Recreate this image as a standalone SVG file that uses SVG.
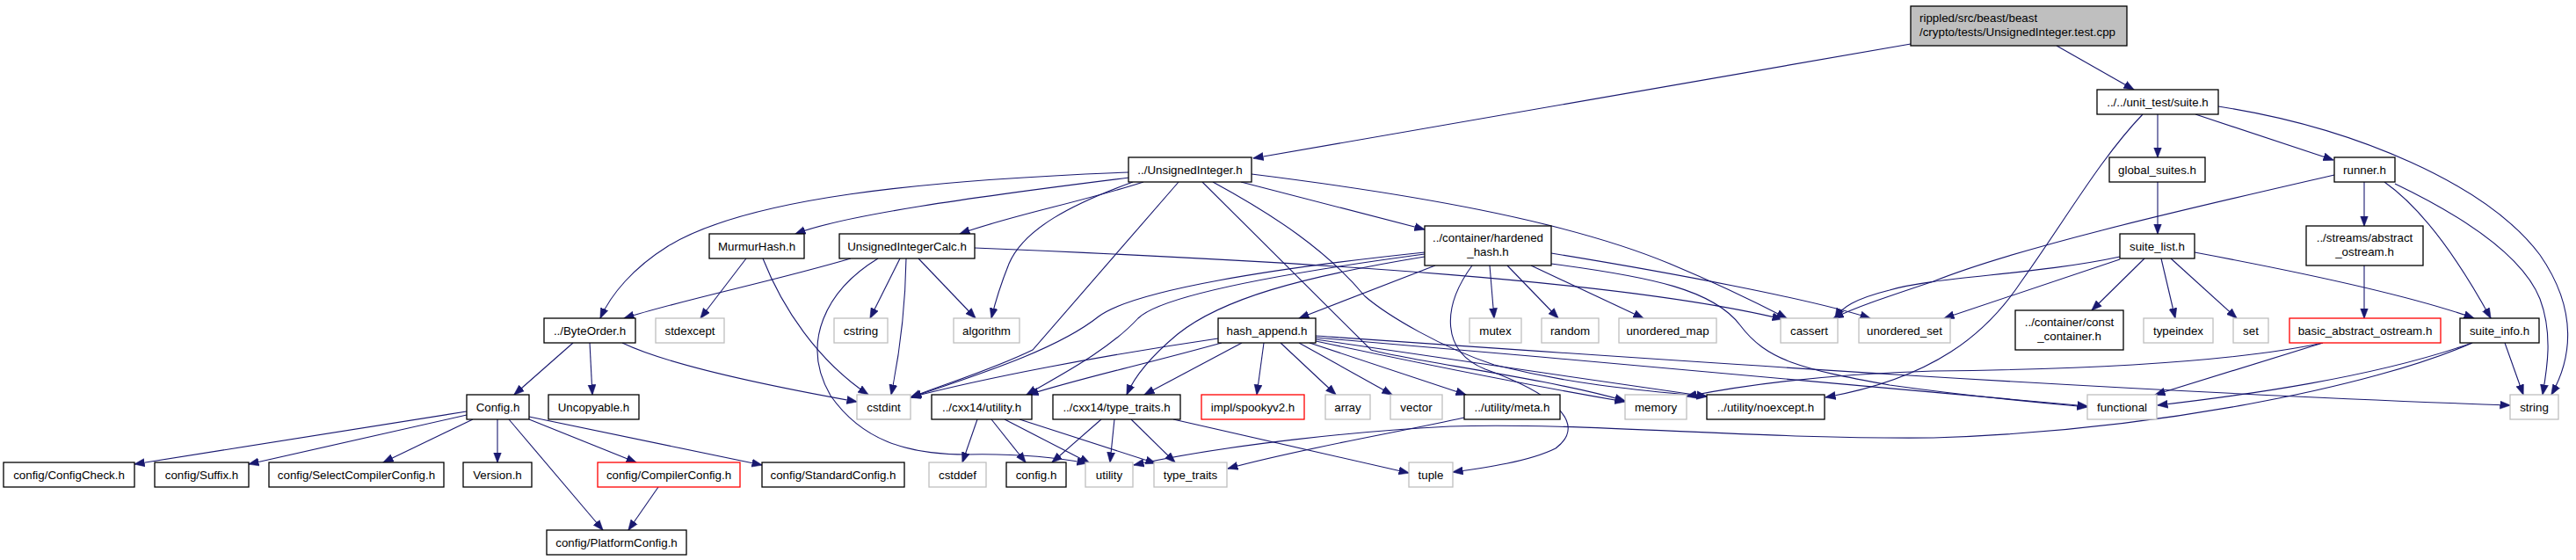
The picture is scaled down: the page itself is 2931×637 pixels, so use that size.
<svg xmlns="http://www.w3.org/2000/svg" width="2931" height="637" viewBox="0 0 2931 637">
<style>
.node rect{fill:#fff;stroke:#000;stroke-width:1.3}
.node.ext rect{stroke:#bfbfbf}
.node.trunc rect{stroke:#ff0000}
.node.main rect{fill:#bfbfbf}
text{font-family:"Liberation Sans",Arial,Helvetica,sans-serif;font-size:13.33px;fill:#000;text-anchor:middle}
.node.main text{text-anchor:start}
#edges path{fill:none;stroke:#191970;stroke-width:1.1;marker-end:url(#arr)}
</style>
<defs>
<marker id="arr" viewBox="0 0 12 10" refX="11.5" refY="5" markerWidth="12" markerHeight="10" markerUnits="userSpaceOnUse" orient="auto">
<path d="M0,0.5 L12,5 L0,9.5 z" fill="#191970" stroke="#191970" stroke-width="0.5"/>
</marker>
</defs>
<rect width="2931" height="637" fill="#fff"/>
<g id="edges">
<path d="M2174,50 L1426,180"/>
<path d="M2340,52 L2428,102"/>
<path d="M2455,130 L2455,179"/>
<path d="M2498,130 L2655,182"/>
<path d="M2524,121 C2680,145 2830,210 2890,290 C2935,355 2925,410 2903,449"/>
<path d="M2438,130 C2390,180 2350,250 2300,320 C2260,380 2200,430 2077,452"/>
<path d="M1284,196 C1050,205 850,225 760,280 C720,305 695,335 683,362"/>
<path d="M1285,202 C1100,225 960,245 905,266"/>
<path d="M1301,207 C1230,230 1150,245 1092,266"/>
<path d="M1289,207 C1220,232 1165,260 1148,300 C1138,325 1132,345 1128,362"/>
<path d="M1341,207 L1175,398 C1130,420 1080,435 1036,452"/>
<path d="M1368,207 L1560,398 C1600,410 1760,430 1849,456"/>
<path d="M1380,207 C1450,245 1510,285 1553,337 C1580,360 1640,395 1700,415 C1800,440 1880,445 1942,451"/>
<path d="M1412,207 L1621,261"/>
<path d="M1424,198 C1600,220 1780,250 1900,300 C1960,325 2000,345 2033,362"/>
<path d="M849,294 L797,362"/>
<path d="M868,294 C890,350 930,410 988,449"/>
<path d="M968,294 C880,320 780,340 710,362"/>
<path d="M1024,294 L990,362"/>
<path d="M1031,294 C1030,360 1022,410 1014,449"/>
<path d="M1045,294 L1110,362"/>
<path d="M999,294 C940,330 910,390 945,450 C980,500 1030,517 1100,517 C1150,516 1200,520 1237,527"/>
<path d="M1109,282 C1500,298 1850,320 2028,363"/>
<path d="M652,390 L585,449"/>
<path d="M671,390 L674,449"/>
<path d="M708,390 C760,415 880,440 975,457"/>
<path d="M531,468 L153,528"/>
<path d="M531,472 L283,528"/>
<path d="M538,477 L436,526"/>
<path d="M566,477 L566,526"/>
<path d="M602,477 L724,526"/>
<path d="M602,474 L867,529"/>
<path d="M579,477 L686,603"/>
<path d="M749,554 L715,603"/>
<path d="M1386,385 C1250,405 1120,430 1036,452"/>
<path d="M1390,390 C1300,415 1230,430 1170,449"/>
<path d="M1413,390 L1302,449"/>
<path d="M1438,390 L1430,449"/>
<path d="M1457,390 L1520,449"/>
<path d="M1478,390 L1584,449"/>
<path d="M1490,390 L1668,449"/>
<path d="M1497,388 C1600,410 1750,440 1849,457"/>
<path d="M1497,386 C1620,405 1800,430 1942,451"/>
<path d="M1497,384 C1800,410 2150,440 2375,462"/>
<path d="M1497,382 C1900,410 2400,445 2856,461"/>
<path d="M1633,302 L1478,362"/>
<path d="M1621,287 C1450,305 1290,330 1250,360 C1200,400 1100,430 1037,452"/>
<path d="M1621,289 C1450,312 1320,337 1295,362 C1260,400 1200,430 1168,449"/>
<path d="M1621,292 C1480,315 1390,340 1340,380 C1310,405 1290,430 1282,449"/>
<path d="M1675,302 C1640,350 1640,400 1690,420 C1760,445 1810,480 1770,510 C1740,525 1690,532 1653,537"/>
<path d="M1695,302 L1700,362"/>
<path d="M1715,302 L1773,362"/>
<path d="M1742,302 L1870,362"/>
<path d="M1765,288 C1900,310 2060,340 2128,362"/>
<path d="M1765,300 C1880,315 1950,330 1980,370 C2010,410 2050,420 2150,438 C2250,452 2320,458 2375,463"/>
<path d="M1335,477 L1603,538"/>
<path d="M1112,477 L1095,526"/>
<path d="M1128,477 L1167,526"/>
<path d="M1143,477 L1240,527"/>
<path d="M1160,477 L1315,527"/>
<path d="M1253,477 L1197,526"/>
<path d="M1268,477 L1263,526"/>
<path d="M1287,477 L1337,526"/>
<path d="M1666,475 C1600,490 1480,510 1397,533"/>
<path d="M2813,390 C2700,440 2450,490 2200,498 C2000,500 1800,480 1650,485 C1550,490 1400,505 1290,529"/>
<path d="M2813,390 C2700,430 2550,450 2455,461"/>
<path d="M2850,390 L2871,449"/>
<path d="M2643,390 L2452,449"/>
<path d="M2643,390 C2550,410 2400,420 2200,422 C2100,425 2000,435 1919,451"/>
<path d="M2690,302 L2690,362"/>
<path d="M2690,207 L2690,257"/>
<path d="M2713,207 C2760,240 2800,300 2834,362"/>
<path d="M2725,209 C2800,245 2870,290 2890,340 C2905,380 2898,420 2893,449"/>
<path d="M2656,199 C2500,235 2300,280 2200,320 C2140,340 2110,350 2086,362"/>
<path d="M2455,207 L2455,266"/>
<path d="M2412,292 C2320,312 2200,315 2150,330 C2110,340 2095,350 2088,362"/>
<path d="M2412,295 L2212,362"/>
<path d="M2440,294 L2380,353"/>
<path d="M2459,294 L2475,362"/>
<path d="M2470,294 L2545,362"/>
<path d="M2497,287 C2620,310 2740,335 2815,362"/>
</g>
<g id="node-root" class="node main"><rect x="2174" y="7" width="246" height="45"/><text x="2184" y="24.5">rippled/src/beast/beast</text><text x="2184" y="41">/crypto/tests/UnsignedInteger.test.cpp</text></g>
<g id="node-suite" class="node"><rect x="2386" y="102" width="138" height="28"/><text x="2455" y="121">../../unit_test/suite.h</text></g>
<g id="node-UnsignedInteger" class="node"><rect x="1284" y="179" width="140" height="28"/><text x="1354" y="198">../UnsignedInteger.h</text></g>
<g id="node-global_suites" class="node"><rect x="2400" y="179" width="109" height="28"/><text x="2454.5" y="198">global_suites.h</text></g>
<g id="node-runner" class="node"><rect x="2656" y="179" width="69" height="28"/><text x="2690.5" y="198">runner.h</text></g>
<g id="node-MurmurHash" class="node"><rect x="807" y="266" width="108" height="28"/><text x="861" y="285">MurmurHash.h</text></g>
<g id="node-UnsignedIntegerCalc" class="node"><rect x="955" y="266" width="154" height="28"/><text x="1032" y="285">UnsignedIntegerCalc.h</text></g>
<g id="node-hardened_hash" class="node"><rect x="1621" y="257" width="144" height="45"/><text x="1693" y="274.5">../container/hardened</text><text x="1693" y="291">_hash.h</text></g>
<g id="node-suite_list" class="node"><rect x="2412" y="266" width="85" height="28"/><text x="2454.5" y="285">suite_list.h</text></g>
<g id="node-abstract_ostream" class="node"><rect x="2624" y="257" width="133" height="45"/><text x="2690.5" y="274.5">../streams/abstract</text><text x="2690.5" y="291">_ostream.h</text></g>
<g id="node-ByteOrder" class="node"><rect x="619" y="362" width="104" height="28"/><text x="671" y="381">../ByteOrder.h</text></g>
<g id="node-stdexcept" class="node ext"><rect x="746" y="362" width="78" height="28"/><text x="785" y="381">stdexcept</text></g>
<g id="node-cstring" class="node ext"><rect x="949" y="362" width="61" height="28"/><text x="979.5" y="381">cstring</text></g>
<g id="node-algorithm" class="node ext"><rect x="1085" y="362" width="75" height="28"/><text x="1122.5" y="381">algorithm</text></g>
<g id="node-hash_append" class="node"><rect x="1386" y="362" width="111" height="28"/><text x="1441.5" y="381">hash_append.h</text></g>
<g id="node-mutex" class="node ext"><rect x="1672" y="362" width="59" height="28"/><text x="1701.5" y="381">mutex</text></g>
<g id="node-random" class="node ext"><rect x="1754" y="362" width="65" height="28"/><text x="1786.5" y="381">random</text></g>
<g id="node-unordered_map" class="node ext"><rect x="1842" y="362" width="111" height="28"/><text x="1897.5" y="381">unordered_map</text></g>
<g id="node-cassert" class="node ext"><rect x="2026" y="362" width="65" height="28"/><text x="2058.5" y="381">cassert</text></g>
<g id="node-unordered_set" class="node ext"><rect x="2115" y="362" width="104" height="28"/><text x="2167" y="381">unordered_set</text></g>
<g id="node-const_container" class="node"><rect x="2293" y="353" width="123" height="45"/><text x="2354.5" y="370.5">../container/const</text><text x="2354.5" y="387">_container.h</text></g>
<g id="node-typeindex" class="node ext"><rect x="2439" y="362" width="79" height="28"/><text x="2478.5" y="381">typeindex</text></g>
<g id="node-set" class="node ext"><rect x="2541" y="362" width="40" height="28"/><text x="2561" y="381">set</text></g>
<g id="node-basic_abstract_ostream" class="node trunc"><rect x="2605" y="362" width="172" height="28"/><text x="2691" y="381">basic_abstract_ostream.h</text></g>
<g id="node-suite_info" class="node"><rect x="2799" y="362" width="90" height="28"/><text x="2844" y="381">suite_info.h</text></g>
<g id="node-Config" class="node"><rect x="531" y="449" width="71" height="28"/><text x="566.5" y="468">Config.h</text></g>
<g id="node-Uncopyable" class="node"><rect x="624" y="449" width="103" height="28"/><text x="675.5" y="468">Uncopyable.h</text></g>
<g id="node-cstdint" class="node ext"><rect x="975" y="449" width="61" height="28"/><text x="1005.5" y="468">cstdint</text></g>
<g id="node-cxx14_utility" class="node"><rect x="1060" y="449" width="114" height="28"/><text x="1117" y="468">../cxx14/utility.h</text></g>
<g id="node-cxx14_type_traits" class="node"><rect x="1198" y="449" width="145" height="28"/><text x="1270.5" y="468">../cxx14/type_traits.h</text></g>
<g id="node-spookyv2" class="node trunc"><rect x="1367" y="449" width="117" height="28"/><text x="1425.5" y="468">impl/spookyv2.h</text></g>
<g id="node-array" class="node ext"><rect x="1508" y="449" width="51" height="28"/><text x="1533.5" y="468">array</text></g>
<g id="node-vector" class="node ext"><rect x="1582" y="449" width="59" height="28"/><text x="1611.5" y="468">vector</text></g>
<g id="node-meta" class="node"><rect x="1666" y="449" width="109" height="28"/><text x="1720.5" y="468">../utility/meta.h</text></g>
<g id="node-memory" class="node ext"><rect x="1849" y="449" width="70" height="28"/><text x="1884" y="468">memory</text></g>
<g id="node-noexcept" class="node"><rect x="1942" y="449" width="134" height="28"/><text x="2009" y="468">../utility/noexcept.h</text></g>
<g id="node-functional" class="node ext"><rect x="2375" y="449" width="79" height="28"/><text x="2414.5" y="468">functional</text></g>
<g id="node-string" class="node ext"><rect x="2856" y="449" width="55" height="28"/><text x="2883.5" y="468">string</text></g>
<g id="node-ConfigCheck" class="node"><rect x="4" y="526" width="149" height="28"/><text x="78.5" y="545">config/ConfigCheck.h</text></g>
<g id="node-Suffix" class="node"><rect x="176" y="526" width="107" height="28"/><text x="229.5" y="545">config/Suffix.h</text></g>
<g id="node-SelectCompilerConfig" class="node"><rect x="306" y="526" width="199" height="28"/><text x="405.5" y="545">config/SelectCompilerConfig.h</text></g>
<g id="node-Version" class="node"><rect x="527" y="526" width="78" height="28"/><text x="566" y="545">Version.h</text></g>
<g id="node-CompilerConfig" class="node trunc"><rect x="680" y="526" width="162" height="28"/><text x="761" y="545">config/CompilerConfig.h</text></g>
<g id="node-StandardConfig" class="node"><rect x="867" y="526" width="162" height="28"/><text x="948" y="545">config/StandardConfig.h</text></g>
<g id="node-cstddef" class="node ext"><rect x="1057" y="526" width="65" height="28"/><text x="1089.5" y="545">cstddef</text></g>
<g id="node-config_h" class="node"><rect x="1145" y="526" width="68" height="28"/><text x="1179" y="545">config.h</text></g>
<g id="node-utility" class="node ext"><rect x="1235" y="526" width="54" height="28"/><text x="1262" y="545">utility</text></g>
<g id="node-type_traits" class="node ext"><rect x="1313" y="526" width="83" height="28"/><text x="1354.5" y="545">type_traits</text></g>
<g id="node-tuple" class="node ext"><rect x="1603" y="526" width="50" height="28"/><text x="1628" y="545">tuple</text></g>
<g id="node-PlatformConfig" class="node"><rect x="622" y="603" width="159" height="28"/><text x="701.5" y="622">config/PlatformConfig.h</text></g>
</svg>
